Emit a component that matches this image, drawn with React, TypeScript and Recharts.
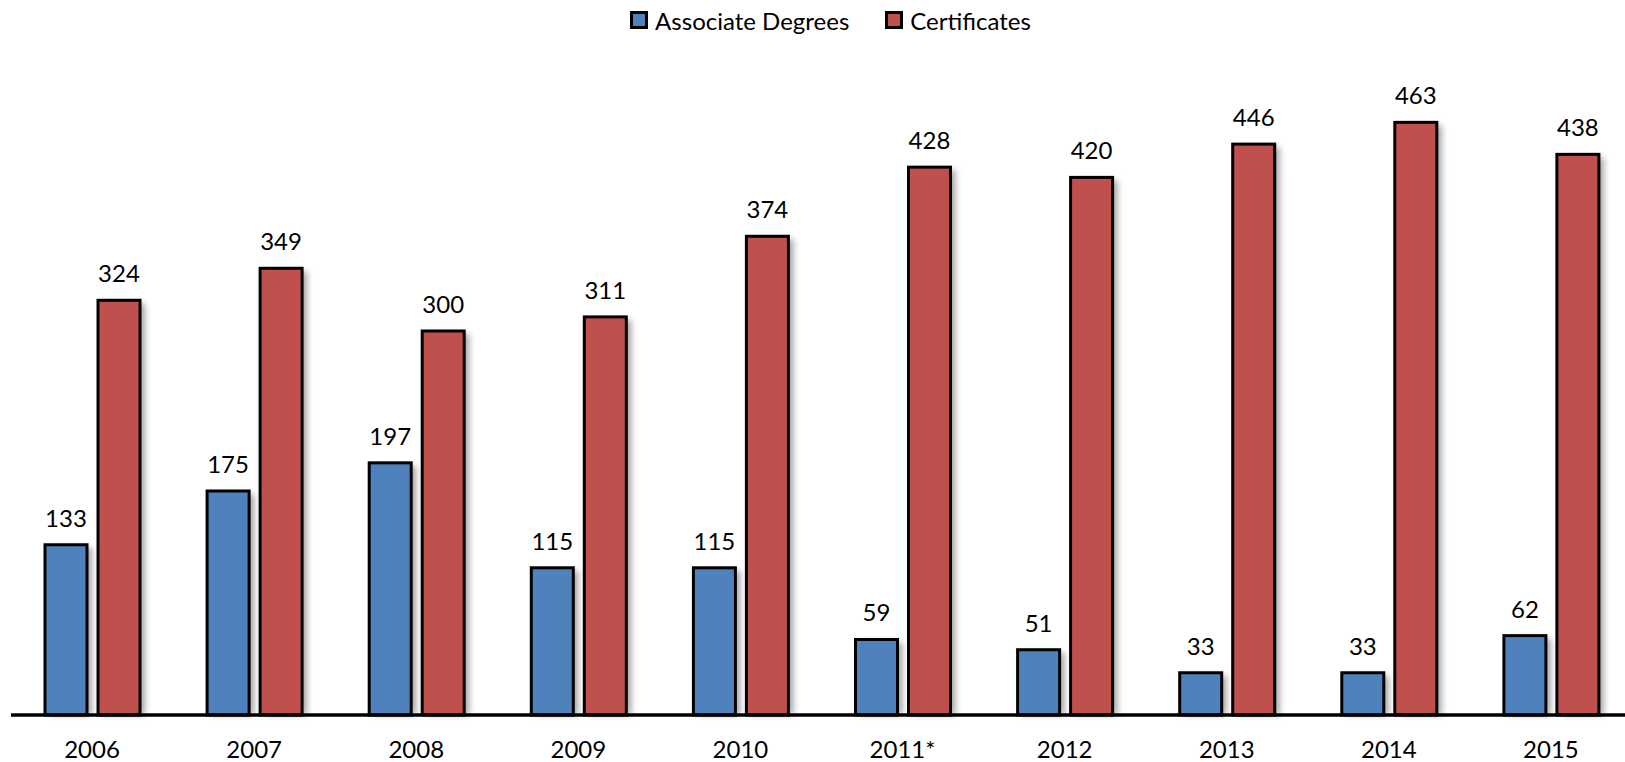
import { BarChart, Bar, XAxis, YAxis, Legend, LabelList } from 'recharts';

const years = ['2006', '2007', '2008', '2009', '2010', '2011*', '2012', '2013', '2014', '2015'];
const associateDegrees = [133, 175, 197, 115, 115, 59, 51, 33, 33, 62];
const certificates = [324, 349, 300, 311, 374, 428, 420, 446, 463, 438];

const series = [
    { key: 'associate', name: 'Associate Degrees', color: '#4F81BD' },
    { key: 'certificates', name: 'Certificates', color: '#C0504D' }
];

const FONT = 'Lato, "Open Sans", sans-serif';

const data = years.map((year, i) => ({
    year,
    associate: associateDegrees[i],
    certificates: certificates[i]
}));

// bar with a soft grey shadow to the right, like the Excel original
const ShadowBar = (props: any) => {
    const { x, y, width, height, fill } = props;
    if (!height || height <= 0) return null;
    return (
        <g>
            <defs>
                <filter id="barShadow" x="-50%" y="-50%" width="200%" height="200%">
                    <feGaussianBlur stdDeviation="3" />
                </filter>
            </defs>
            <rect x={x + 5} y={y + 3} width={width} height={height - 3} fill="#000" opacity={0.35} filter="url(#barShadow)" />
            <rect x={x} y={y} width={width} height={height} fill={fill} stroke="#000" strokeWidth={3} />
        </g>
    );
};

const renderLegend = () => (
    <div style={{
        display: 'flex',
        justifyContent: 'center',
        gap: 36,
        fontFamily: FONT,
        fontSize: 24,
        color: '#000',
        paddingLeft: 18,
        height: 40,
        alignItems: 'center'
    }}>
        {series.map(s => (
            <span key={s.key} style={{ display: 'flex', alignItems: 'center' }}>
                <span style={{
                    display: 'inline-block',
                    width: 12,
                    height: 12,
                    border: '3px solid #000',
                    background: s.color,
                    marginRight: 7
                }} />
                {s.name}
            </span>
        ))}
    </div>
);

export default function App() {
    return (
        <div style={{ position: 'absolute', left: 0, top: 0, width: 1625, height: 762, overflow: 'hidden', background: '#fff' }}>
            <BarChart
                width={1632}
                height={762}
                data={data}
                margin={{ top: 35, right: 0, left: 11, bottom: 7 }}
                barSize={42}
                barGap={11}
            >
                <Legend verticalAlign="top" align="center" height={40} content={renderLegend} wrapperStyle={{ top: 0 }} />
                <XAxis
                    dataKey="year"
                    height={40}
                    axisLine={{ stroke: '#000', strokeWidth: 3.5 }}
                    tickLine={false}
                    tickMargin={20}
                    tick={{ fill: '#000', fontSize: 24, fontFamily: FONT }}
                    interval={0}
                />
                <YAxis hide domain={[0, 500]} />
                {series.map(s => (
                    <Bar key={s.key} dataKey={s.key} name={s.name} fill={s.color} shape={<ShadowBar />} isAnimationActive={false}>
                        <LabelList dataKey={s.key} position="top" offset={18} fill="#000" fontSize={24} fontFamily={FONT} />
                    </Bar>
                ))}
            </BarChart>
        </div>
    );
}
